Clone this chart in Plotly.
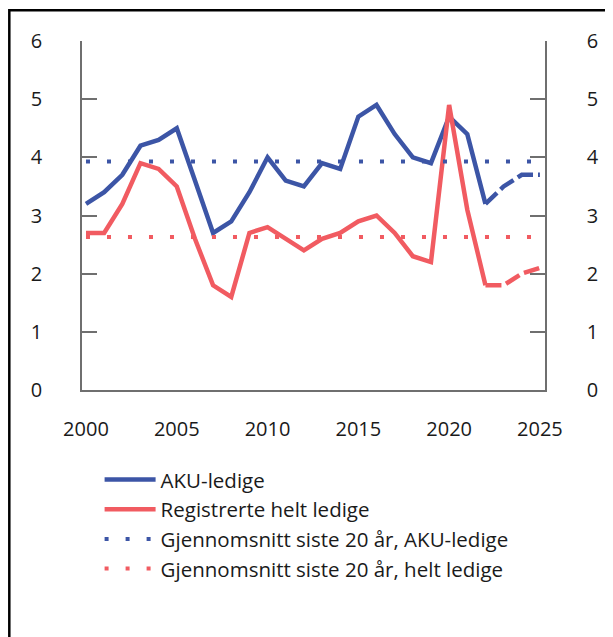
import plotly.graph_objects as go

years = list(range(2000, 2026))
aku = [3.2, 3.4, 3.7, 4.2, 4.3, 4.5, 3.6, 2.7, 2.9, 3.4, 4.0, 3.6, 3.5, 3.9, 3.8,
       4.7, 4.9, 4.4, 4.0, 3.9, 4.7, 4.4, 3.2, 3.5, 3.7, 3.7]
reg = [2.7, 2.7, 3.2, 3.9, 3.8, 3.5, 2.6, 1.8, 1.6, 2.7, 2.8, 2.6, 2.4, 2.6, 2.7,
       2.9, 3.0, 2.7, 2.3, 2.2, 4.9, 3.1, 1.8, 1.8, 2.0, 2.1]
last_actual = 2022
avg_aku = 3.93
avg_reg = 2.63
y_ticks = [0, 1, 2, 3, 4, 5, 6]
x_ticks = [2000, 2005, 2010, 2015, 2020, 2025]

BLUE = "#3C55A6"
RED = "#F15B61"
GRID = "#6f6f6f"
FONT = "Open Sans"

cut = years.index(last_actual)

fig = go.Figure()
fig.add_trace(go.Scatter(x=years[:cut + 1], y=aku[:cut + 1], mode="lines",
                         line=dict(color=BLUE, width=4.5), name="AKU-ledige"))
fig.add_trace(go.Scatter(x=years[:cut + 1], y=reg[:cut + 1], mode="lines",
                         line=dict(color=RED, width=4.5), name="Registrerte helt ledige"))
fig.add_trace(go.Scatter(x=years[cut:], y=aku[cut:], mode="lines",
                         line=dict(color=BLUE, width=4.5, dash="16px,5px"),
                         showlegend=False))
fig.add_trace(go.Scatter(x=years[cut:], y=reg[cut:], mode="lines",
                         line=dict(color=RED, width=4.5, dash="16px,5px"),
                         showlegend=False))
fig.add_trace(go.Scatter(x=[years[0], years[-1]], y=[avg_aku, avg_aku], mode="lines",
                         line=dict(color=BLUE, width=4, dash="4px,17px"),
                         name="Gjennomsnitt siste 20 år, AKU-ledige"))
fig.add_trace(go.Scatter(x=[years[0], years[-1]], y=[avg_reg, avg_reg], mode="lines",
                         line=dict(color=RED, width=4, dash="4px,17px"),
                         name="Gjennomsnitt siste 20 år, helt ledige"))
# invisible trace to activate right axis
fig.add_trace(go.Scatter(x=[years[0]], y=[0], yaxis="y2", mode="markers",
                         marker=dict(opacity=0), showlegend=False, hoverinfo="skip"))

fig.update_layout(
    width=613, height=637,
    margin=dict(l=74, r=76, t=33, b=255),
    paper_bgcolor="white", plot_bgcolor="white",
    font=dict(family=FONT, size=20, color="#1a1a1a"),
    showlegend=True,
    legend=dict(x=0.038, y=-0.2, xanchor="left", yanchor="top",
                font=dict(size=20.5, family=FONT, color="#1a1a1a"),
                itemwidth=51, tracegroupgap=0, bgcolor="rgba(0,0,0,0)"),
    xaxis=dict(range=[1999.78, 2025.28], tickvals=x_ticks, showgrid=False,
               zeroline=False, showline=True, linecolor=GRID, linewidth=1.5,
               ticks="", ticklabelstandoff=20),
    yaxis=dict(range=[0, 6], tickvals=y_ticks, showgrid=False, zeroline=False,
               showline=True, linecolor=GRID, linewidth=1.5,
               ticks="inside", ticklen=15, tickcolor=GRID, tickwidth=1.5,
               ticklabelstandoff=34),
    yaxis2=dict(range=[0, 6], tickvals=y_ticks, overlaying="y", side="right",
                showgrid=False, zeroline=False, showline=True, linecolor=GRID,
                linewidth=1.5, ticks="inside", ticklen=15, tickcolor=GRID,
                tickwidth=1.5, ticklabelstandoff=36),
    shapes=[dict(type="rect", xref="paper", yref="paper",
                 x0=-0.157, x1=1.3, y0=-1.0, y1=1.088,
                 line=dict(color="black", width=2.5), fillcolor="rgba(0,0,0,0)",
                 layer="below")],
)

fig.write_html("out.html")
